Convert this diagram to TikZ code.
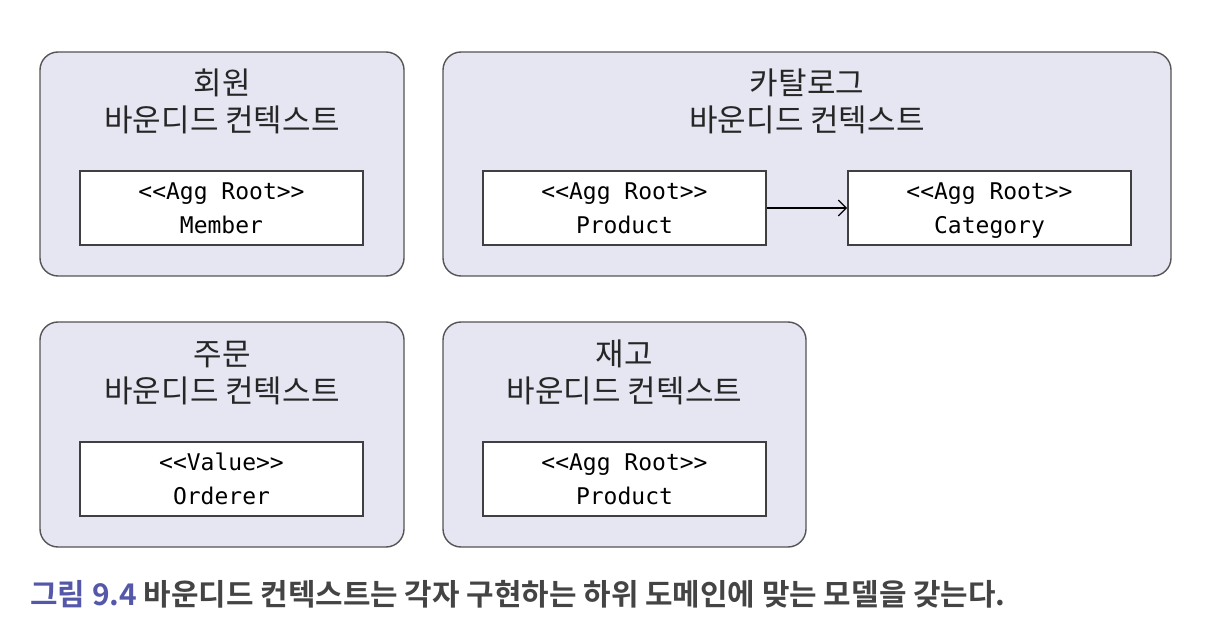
\documentclass[tikz,border=0pt]{standalone}
\usepackage{fontspec}
\setmainfont{Noto Sans CJK KR}
\newfontfamily\krfont{Noto Sans CJK KR}
\newfontfamily\krbold{Noto Sans CJK KR Bold}
\newfontfamily\codefont{DejaVu Sans Mono}
\usetikzlibrary{arrows.meta}
\definecolor{ctxfill}{HTML}{E6E6F2}
\definecolor{ctxline}{HTML}{555555}
\definecolor{capblue}{HTML}{5558A8}
\definecolor{capgray}{HTML}{444444}
\tikzset{
  ctx/.style={draw=ctxline, line width=1.4pt, fill=ctxfill, rounded corners=18pt},
  ctxtitle/.style={align=center, inner sep=0pt, font=\krfont\fontsize{31}{37}\selectfont, text=black!85},
  agg/.style={draw=black!75, line width=1.6pt, fill=white, minimum width=283pt, minimum height=74pt, inner sep=0pt, align=center, font=\codefont\fontsize{23}{34}\selectfont},
  aggtext/.style={align=center, inner sep=0pt, font=\codefont\fontsize{23}{34}\selectfont},
  assoc/.style={line width=1.3pt, -{Straight Barb[length=8pt,width=16pt,line width=1.3pt]}}
}
\begin{document}
\begin{tikzpicture}[x=1pt,y=-1pt]
\useasboundingbox (0,0) rectangle (1224,636);
\fill[white] (0,0) rectangle (1224,636);
% contexts
\draw[ctx] (40,52) rectangle (404,276);
\draw[ctx] (443,52) rectangle (1171,276);
\draw[ctx] (40,322) rectangle (404,547);
\draw[ctx] (443,322) rectangle (806,547);
% titles
\node[ctxtitle] (t1) at (222,106) {\strut 회원\\\strut 바운디드 컨텍스트};
\node[ctxtitle] (t2) at (807,106) {\strut 카탈로그\\\strut 바운디드 컨텍스트};
\node[ctxtitle] (t3) at (222,376.5) {\strut 주문\\\strut 바운디드 컨텍스트};
\node[ctxtitle] (t4) at (624.5,376.5) {\strut 재고\\\strut 바운디드 컨텍스트};
% aggregates
\node[agg] (member) at (221.5,208) {};
\node[agg] (product) at (624.5,208) {};
\node[agg] (category) at (989.5,208) {};
\node[agg] (orderer) at (221.5,479) {};
\node[agg] (product2) at (624.5,479) {};
\node[aggtext] (memberT) at ([yshift=-2pt]member.center) {\strut<<Agg Root>>\\\strut Member};
\node[aggtext] (productT) at ([yshift=-2pt]product.center) {\strut<<Agg Root>>\\\strut Product};
\node[aggtext] (categoryT) at ([yshift=-2pt]category.center) {\strut<<Agg Root>>\\\strut Category};
\node[aggtext] (ordererT) at ([yshift=-2pt]orderer.center) {\strut<<Value>>\\\strut Orderer};
\node[aggtext] (product2T) at ([yshift=-2pt]product2.center) {\strut<<Agg Root>>\\\strut Product};
\draw[assoc] (product.east) -- (category.west);
% caption
\node[anchor=west, inner sep=0pt, font=\krbold\fontsize{29.9}{32}\selectfont] (cap) at (30,594)
  {\textcolor{capblue}{그림 9.4} \textcolor{capgray}{바운디드 컨텍스트는 각자 구현하는 하위 도메인에 맞는 모델을 갖는다.}};
\end{tikzpicture}
\end{document}
